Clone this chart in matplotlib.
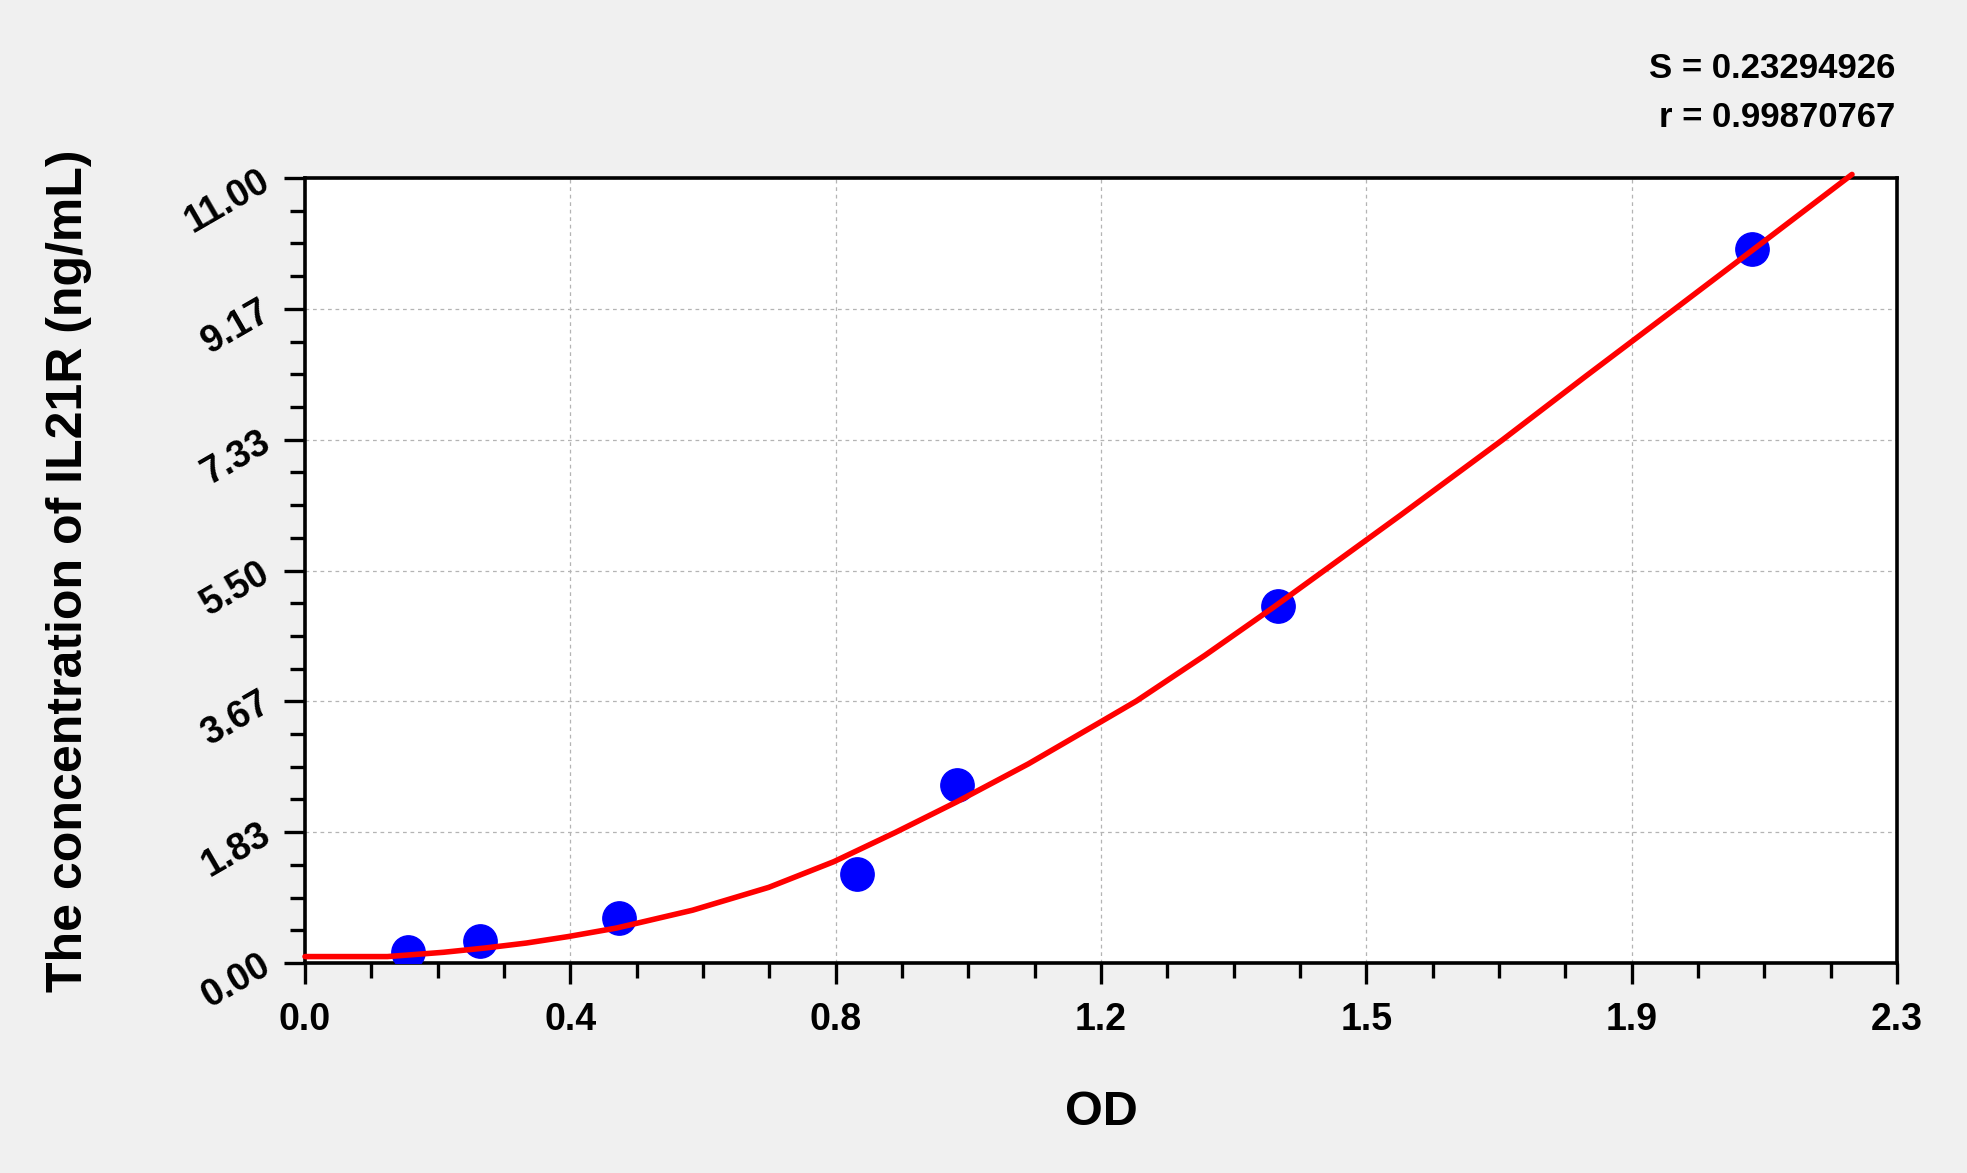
import numpy as np
import matplotlib
matplotlib.use("Agg")
import matplotlib.pyplot as plt
from matplotlib.ticker import FixedLocator, AutoMinorLocator

# standard points (OD, concentration)
std_od = [0.149, 0.253, 0.453, 0.798, 0.942, 1.406, 2.090]
std_conc = [0.156, 0.312, 0.625, 1.25, 2.5, 5.0, 10.0]

# fitted curve
fit_od = [0.000, 0.119, 0.200, 0.260, 0.320, 0.380, 0.450, 0.560, 0.670,
          0.764, 0.853, 0.942, 1.045, 1.148, 1.201, 1.300, 1.400, 1.474,
          1.582, 1.730, 1.850, 1.973, 2.090, 2.235]
fit_conc = [0.09, 0.09, 0.15, 0.21, 0.28, 0.37, 0.49, 0.74, 1.06,
            1.42, 1.83, 2.26, 2.79, 3.37, 3.67, 4.31, 4.99, 5.51,
            6.27, 7.33, 8.22, 9.12, 9.98, 11.05]

x_ticks = [0.0, 2.3 / 6, 2 * 2.3 / 6, 3 * 2.3 / 6, 4 * 2.3 / 6, 5 * 2.3 / 6, 2.3]
x_labels = ['0.0', '0.4', '0.8', '1.2', '1.5', '1.9', '2.3']
y_ticks = [0.0, 11 / 6, 2 * 11 / 6, 3 * 11 / 6, 4 * 11 / 6, 5 * 11 / 6, 11.0]
y_labels = ['0.00', '1.83', '3.67', '5.50', '7.33', '9.17', '11.00']

s_text = 'S = 0.23294926'
r_text = 'r = 0.99870767'

plt.rcParams['font.family'] = ['Liberation Sans', 'DejaVu Sans']
plt.rcParams['font.weight'] = 'bold'

W, H = 1967, 1173
fig = plt.figure(figsize=(W / 100, H / 100), dpi=100, facecolor='#f0f0f0')
ax = fig.add_axes([305 / W, 1 - 963 / H, (1897 - 305) / W, (963 - 178) / H])
ax.set_facecolor('white')

ax.plot(std_od, std_conc, 'o', color='#0000ff', markersize=24, zorder=3)
ax.plot(fit_od, fit_conc, '-', color='#ff0000', linewidth=4, zorder=4,
        clip_on=False, solid_capstyle='round')

ax.set_xlim(0, 2.3)
ax.set_ylim(0, 11)

ax.xaxis.set_major_locator(FixedLocator(x_ticks))
ax.set_xticklabels(x_labels, fontsize=27)
ax.yaxis.set_major_locator(FixedLocator(y_ticks))
ax.set_yticklabels(y_labels, fontsize=27, rotation=30, ha='right',
                   va='center', rotation_mode='anchor')
ax.xaxis.set_minor_locator(AutoMinorLocator(4))
ax.yaxis.set_minor_locator(AutoMinorLocator(4))

ax.tick_params(which='major', direction='out', length=15, width=2.4,
               color='black')
ax.tick_params(which='minor', direction='out', length=10.5, width=2.4,
               color='black')
ax.tick_params(axis='x', which='major', pad=13)
ax.tick_params(axis='y', which='major', pad=12)
ax.tick_params(top=False, right=False, which='both')

for side in ['left', 'bottom', 'top', 'right']:
    ax.spines[side].set_linewidth(2.6)
    ax.spines[side].set_color('black')

ax.grid(True, which='major', color='#b4b4b4', linestyle=(0, (3, 3)),
        linewidth=0.9)
ax.set_axisbelow(True)

ax.set_xlabel('OD', fontsize=35, fontweight='bold', va='center')
ax.xaxis.set_label_coords(0.5, -0.19)
ax.set_ylabel('The concentration of IL21R (ng/mL)', fontsize=36,
              fontweight='bold', va='center')
ax.yaxis.set_label_coords(-0.148, 0.5)

fig.text(1895 / W, 1 - 78 / H, s_text, ha='right', va='baseline',
         fontsize=25, fontweight='bold')
fig.text(1895 / W, 1 - 127 / H, r_text, ha='right', va='baseline',
         fontsize=25, fontweight='bold')

fig.savefig('out.png', dpi=100, facecolor=fig.get_facecolor())
